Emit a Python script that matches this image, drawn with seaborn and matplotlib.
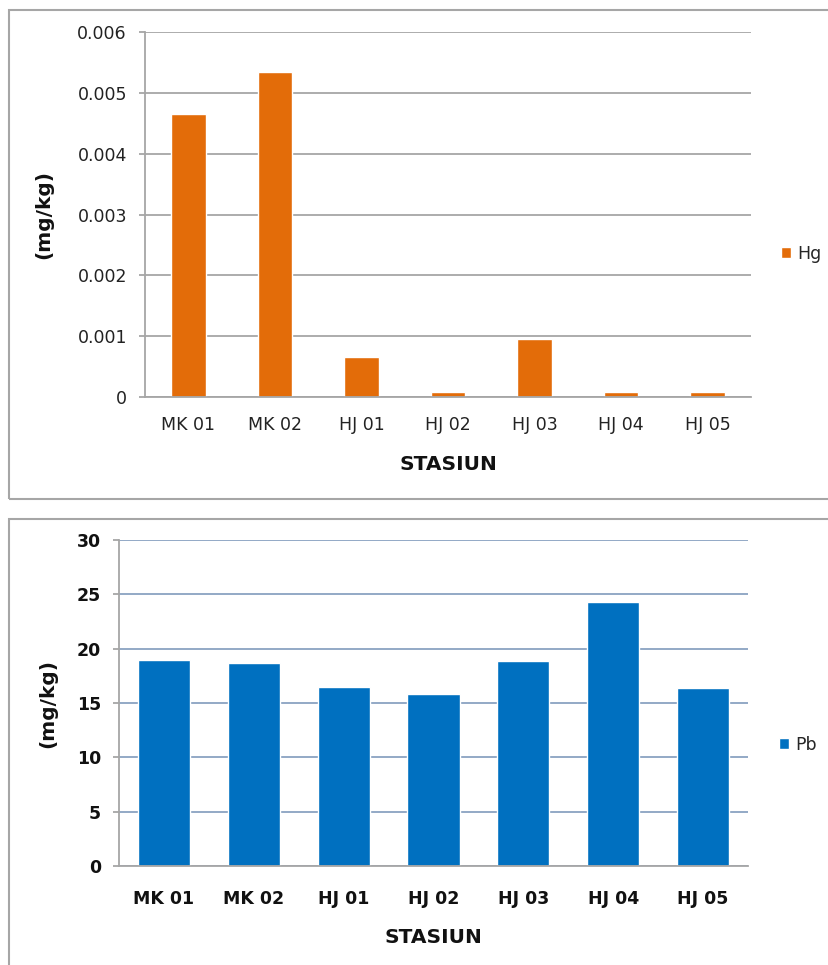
import matplotlib
matplotlib.use("Agg")
import matplotlib.pyplot as plt
from matplotlib.patches import Rectangle, Patch
import seaborn as sns
import pandas as pd

stations = ["MK 01", "MK 02", "HJ 01", "HJ 02", "HJ 03", "HJ 04", "HJ 05"]
hg_values = [0.00466, 0.00535, 0.00066, 0.00008, 0.00096, 0.00008, 0.00008]
pb_values = [18.95, 18.65, 16.45, 15.8, 18.85, 24.25, 16.35]
hg_ticks = [0, 0.001, 0.002, 0.003, 0.004, 0.005, 0.006]
hg_tick_labels = ["0", "0.001", "0.002", "0.003", "0.004", "0.005", "0.006"]
pb_ticks = [0, 5, 10, 15, 20, 25, 30]
x_label = "STASIUN"
y_label = "(mg/kg)"

sns.set_theme(style="white")
plt.rcParams['font.family'] = ['DejaVu Sans']

W, H = 829, 965
fig = plt.figure(figsize=(W / 100, H / 100), dpi=100)
fig.patch.set_facecolor("white")

def fx(px):
    return px / W

def fy(py):
    return 1 - py / H

# panel borders
fig.add_artist(Rectangle((fx(9.5), fy(498.5)), fx(W + 20), (498.5 - 10.5) / H,
                         transform=fig.transFigure, fill=False,
                         edgecolor="#a6a6a6", lw=1.5))
fig.add_artist(Rectangle((fx(9.5), fy(W * 3)), fx(W + 20), (W * 3 - 519) / H,
                         transform=fig.transFigure, fill=False,
                         edgecolor="#a6a6a6", lw=1.5))

# ---------- top panel: Hg ----------
df_hg = pd.DataFrame({"station": stations, "value": hg_values})
ax1 = fig.add_axes([fx(145), fy(397), (751 - 145) / W, (397 - 32) / H])
sns.barplot(data=df_hg, x="station", y="value", color="#E36C09", saturation=1,
            width=0.4, ax=ax1)
ax1.set_ylim(0, 0.006)
ax1.set_xlim(-0.5, 6.5)
ax1.set_yticks(hg_ticks)
ax1.set_yticklabels(hg_tick_labels)
ax1.yaxis.grid(True, color="#a6a6a6", lw=1.3)
ax1.set_axisbelow(True)
for s in ["top", "right"]:
    ax1.spines[s].set_visible(False)
ax1.spines["left"].set_color("#a6a6a6")
ax1.spines["bottom"].set_color("#a6a6a6")
ax1.spines["left"].set_linewidth(1.3)
ax1.spines["bottom"].set_linewidth(1.3)
ax1.tick_params(axis="y", left=True, length=4, width=1.3, color="#a6a6a6",
                pad=9, labelsize=12.5, labelcolor="#222222")
ax1.tick_params(axis="x", bottom=False, length=0, pad=13.5, labelsize=12.5,
                labelcolor="#222222")
ax1.set_xlabel(x_label, fontsize=14.5, fontweight="bold", labelpad=15, color="#111111")
ax1.set_ylabel(y_label, fontsize=14.5, fontweight="bold", labelpad=17, color="#111111")
fig.legend(handles=[Patch(facecolor="#E36C09", label="Hg")], loc="center left",
           bbox_to_anchor=(fx(781), fy(254)), frameon=False, fontsize=12.5,
           handlelength=0.6, handleheight=0.6, handletextpad=0.35,
           borderpad=0, borderaxespad=0)

# ---------- bottom panel: Pb ----------
df_pb = pd.DataFrame({"station": stations, "value": pb_values})
ax2 = fig.add_axes([fx(119), fy(866), (748 - 119) / W, (866 - 540) / H])
sns.barplot(data=df_pb, x="station", y="value", color="#0070C0", saturation=1,
            width=0.58, ax=ax2)
ax2.set_ylim(0, 30)
ax2.set_xlim(-0.5, 6.5)
ax2.set_yticks(pb_ticks)
ax2.yaxis.grid(True, color="#8aa2c2", lw=1.3)
ax2.set_axisbelow(True)
for s in ["top", "right"]:
    ax2.spines[s].set_visible(False)
ax2.spines["left"].set_color("#a6a6a6")
ax2.spines["bottom"].set_color("#a6a6a6")
ax2.spines["left"].set_linewidth(1.3)
ax2.spines["bottom"].set_linewidth(1.3)
ax2.tick_params(axis="y", left=True, length=4, width=1.3, color="#a6a6a6",
                pad=9, labelsize=12.5, labelcolor="#111111")
ax2.tick_params(axis="x", bottom=False, length=0, pad=17.5, labelsize=12.5,
                labelcolor="#111111")
for lbl in ax2.get_xticklabels() + ax2.get_yticklabels():
    lbl.set_fontweight("bold")
ax2.set_xlabel(x_label, fontsize=14.5, fontweight="bold", labelpad=14, color="#111111")
ax2.set_ylabel(y_label, fontsize=14.5, fontweight="bold", labelpad=14, color="#111111")
fig.legend(handles=[Patch(facecolor="#0070C0", label="Pb")], loc="center left",
           bbox_to_anchor=(fx(779), fy(745)), frameon=False, fontsize=12.5,
           handlelength=0.6, handleheight=0.6, handletextpad=0.35,
           borderpad=0, borderaxespad=0)

fig.savefig("out.png", dpi=100, facecolor="white")
